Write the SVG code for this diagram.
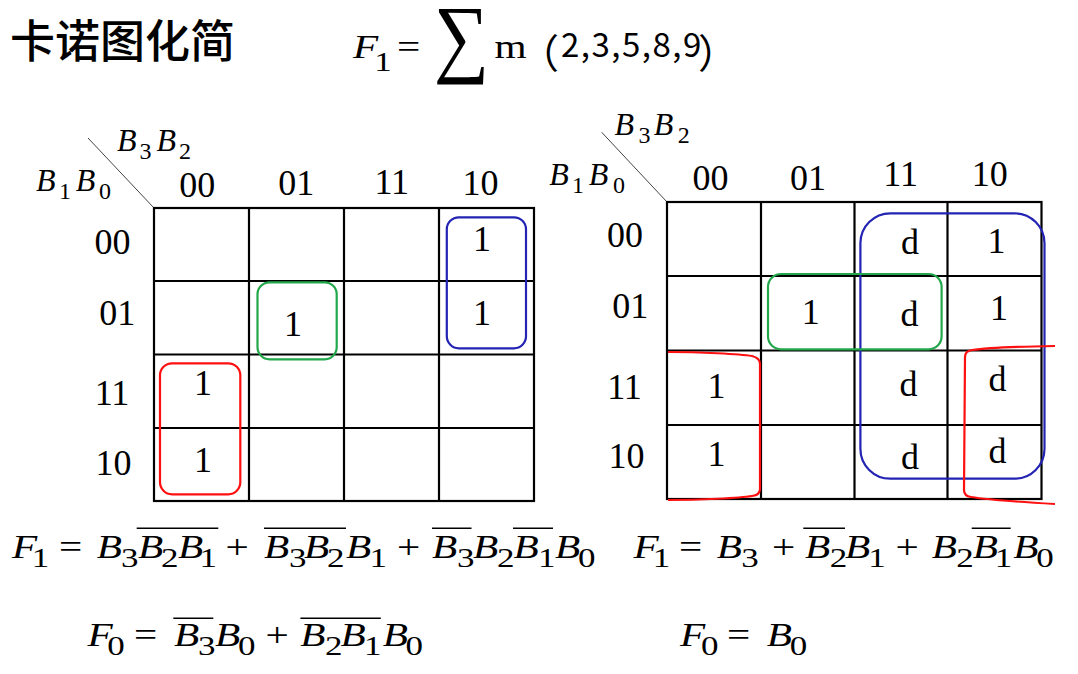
<svg xmlns="http://www.w3.org/2000/svg" width="1078" height="674" viewBox="0 0 1078 674">
<style>
.bg{fill:#fff}
.grid{fill:none;stroke:#000;stroke-width:2.2}
.diag{stroke:#444;stroke-width:1;fill:none}
.hd{font-family:"Liberation Serif",serif;font-size:36px;fill:#000;text-anchor:middle}
.cell{font-family:"Liberation Serif",serif;font-size:36px;fill:#000;text-anchor:middle}
.ax{font-family:"Liberation Serif",serif;font-size:32px;font-style:italic;fill:#000}
.ax .s{font-style:normal;font-size:24px}
.eq{font-family:"Liberation Serif",serif;font-size:33px;font-style:italic;fill:#000}
.eq .s{font-style:normal;font-size:28px}
.eq .o{font-style:normal}
.sum{font-family:"Liberation Serif",serif;font-size:72px;fill:#000}
.bar{stroke:#000;stroke-width:1.6}
.blue{fill:none;stroke:#2323b4;stroke-width:2.2}
.green{fill:none;stroke:#22a84b;stroke-width:2.2}
.red{fill:none;stroke:#ff1010;stroke-width:2.2}
.title{font-family:"Noto Sans CJK SC","Noto Sans",sans-serif;font-size:45px;font-weight:500;fill:#000}
.cj{font-family:"Noto Sans CJK SC","Noto Sans",sans-serif;font-size:33px;fill:#000}
.cj .p{font-size:40px}
</style>
<rect class="bg" x="0" y="0" width="1078" height="674"/>

<g id="title">
<text class="title" x="10" y="58">卡诺图化简</text>
</g>

<g id="formula-top">
<text class="eq" transform="scale(1.25,1)"><tspan x="282.4" y="58">F</tspan><tspan class="s" x="299.5" y="71">1</tspan><tspan class="o" x="317.6" y="58">=</tspan><tspan class="o" x="395.6" y="58">m</tspan></text>
<text class="sum" transform="translate(433.7,66) scale(1.08,1.21)" x="0" y="0">∑</text>
<text class="cj"><tspan class="p" x="519" y="68">（</tspan><tspan x="561" y="57" letter-spacing="1.5">2,3,5,8,9</tspan><tspan class="p" x="698" y="68">）</tspan></text>
</g>

<g id="kmap-left">
<line class="diag" x1="88" y1="138" x2="154" y2="208"/>
<text class="ax"><tspan x="117" y="151">B</tspan><tspan class="s" x="139.5" y="158.5">3</tspan><tspan x="156.5" y="151">B</tspan><tspan class="s" x="179" y="158.5">2</tspan></text>
<text class="ax"><tspan x="36" y="191">B</tspan><tspan class="s" x="59" y="199">1</tspan><tspan x="75.8" y="191">B</tspan><tspan class="s" x="99" y="199">0</tspan></text>
<text class="hd" x="197.3" y="196.7">00</text>
<text class="hd" x="296.3" y="195">01</text>
<text class="hd" x="391.8" y="194">11</text>
<text class="hd" x="480.4" y="195">10</text>
<text class="hd" x="112.4" y="254">00</text>
<text class="hd" x="117.3" y="325">01</text>
<text class="hd" x="112" y="405">11</text>
<text class="hd" x="113.6" y="475">10</text>
<rect class="grid" x="154" y="208" width="380" height="293"/>
<path class="grid" d="M249,208V501M344,208V501M439,208V501M154,281H534M154,354.5H534M154,428H534"/>
<text class="cell" x="482" y="250.7">1</text>
<text class="cell" x="482" y="325">1</text>
<text class="cell" x="293" y="336">1</text>
<text class="cell" x="203" y="395">1</text>
<text class="cell" x="203" y="471.7">1</text>
<rect class="blue" x="446.8" y="217.3" width="79.2" height="131" rx="12"/>
<rect class="green" x="257.5" y="282.3" width="79.2" height="77" rx="12"/>
<rect class="red" x="160" y="363.3" width="80.3" height="131" rx="12"/>
</g>

<g id="kmap-right">
<line class="diag" x1="601.7" y1="132.3" x2="667" y2="202"/>
<text class="ax"><tspan x="614.4" y="135">B</tspan><tspan class="s" x="638.5" y="143">3</tspan><tspan x="653.8" y="135">B</tspan><tspan class="s" x="677.8" y="143">2</tspan></text>
<text class="ax"><tspan x="549.3" y="185">B</tspan><tspan class="s" x="572" y="193">1</tspan><tspan x="588.7" y="185">B</tspan><tspan class="s" x="613" y="193">0</tspan></text>
<text class="hd" x="710.5" y="190">00</text>
<text class="hd" x="808" y="190">01</text>
<text class="hd" x="900.7" y="186">11</text>
<text class="hd" x="989.8" y="186">10</text>
<text class="hd" x="625" y="247.3">00</text>
<text class="hd" x="630.3" y="318.3">01</text>
<text class="hd" x="624.5" y="399.3">11</text>
<text class="hd" x="626.5" y="468.3">10</text>
<rect class="grid" x="667" y="202" width="374.5" height="297"/>
<path class="grid" d="M761,202V499M854.5,202V499M947.5,202V499M667,276H1041.5M667,350.5H1041.5M667,425H1041.5"/>
<text class="cell" x="910" y="254">d</text>
<text class="cell" x="996.5" y="253.3">1</text>
<text class="cell" x="810.7" y="324">1</text>
<text class="cell" x="909.4" y="326">d</text>
<text class="cell" x="999" y="320">1</text>
<text class="cell" x="716.5" y="398.3">1</text>
<text class="cell" x="908.4" y="396">d</text>
<text class="cell" x="997.5" y="390.7">d</text>
<text class="cell" x="716.5" y="466">1</text>
<text class="cell" x="910" y="469.3">d</text>
<text class="cell" x="997.5" y="462.7">d</text>
<rect class="blue" x="860.4" y="213.3" width="184.1" height="265.4" rx="30"/>
<rect class="green" x="768" y="274" width="173.6" height="75.3" rx="13"/>
<path class="red" d="M668,352 C700,352 740,354 752,356 Q760,358 760,364 L760,489 Q760,495 752,496 C740,498 700,500 668,500"/>
<path class="red" d="M1055,346 C1020,346.5 985,348 972,350 Q965,351 965,357 L964,490 Q964,496 971,497 C990,500 1020,502 1055,504"/>
</g>

<g id="formulas-left">
<text class="eq" transform="scale(1.25,1)"><tspan x="9.6" y="558">F</tspan><tspan class="s" x="25.4" y="567">1</tspan><tspan class="o" x="47.2" y="558">=</tspan><tspan x="77.36" y="558">B</tspan><tspan class="s" x="96.8" y="567">3</tspan><tspan x="110.4" y="558">B</tspan><tspan class="s" x="128.8" y="567">2</tspan><tspan x="142.4" y="558">B</tspan><tspan class="s" x="159.6" y="567">1</tspan><tspan class="o" x="180.4" y="558">+</tspan><tspan x="211.2" y="558">B</tspan><tspan class="s" x="231.2" y="567">3</tspan><tspan x="243.2" y="558">B</tspan><tspan class="s" x="261.6" y="567">2</tspan><tspan x="276.8" y="558">B</tspan><tspan class="s" x="295.6" y="567">1</tspan><tspan class="o" x="317.6" y="558">+</tspan><tspan x="345.6" y="558">B</tspan><tspan class="s" x="365.6" y="567">3</tspan><tspan x="378.4" y="558">B</tspan><tspan class="s" x="397.6" y="567">2</tspan><tspan x="410.8" y="558">B</tspan><tspan class="s" x="430.4" y="567">1</tspan><tspan x="444" y="558">B</tspan><tspan class="s" x="462.4" y="567">0</tspan></text>
<path class="bar" d="M136.7,528.3H218.3M264,528.3H346M432,528.3H471.5M513,528.3H553"/>
<text class="eq" transform="scale(1.25,1)"><tspan x="70" y="646">F</tspan><tspan class="s" x="85.8" y="655">0</tspan><tspan class="o" x="107.2" y="646">=</tspan><tspan x="139.2" y="646">B</tspan><tspan class="s" x="158.4" y="655">3</tspan><tspan x="172" y="646">B</tspan><tspan class="s" x="190.4" y="655">0</tspan><tspan class="o" x="212.4" y="646">+</tspan><tspan x="240.3" y="646">B</tspan><tspan class="s" x="260" y="655">2</tspan><tspan x="272.5" y="646">B</tspan><tspan class="s" x="291.2" y="655">1</tspan><tspan x="306.2" y="646">B</tspan><tspan class="s" x="324.5" y="655">0</tspan></text>
<path class="bar" d="M173.3,618.3H213.3M300.4,618.3H380.8"/>
</g>

<g id="formulas-right">
<text class="eq" transform="scale(1.25,1)"><tspan x="506.8" y="558">F</tspan><tspan class="s" x="522.2" y="567">1</tspan><tspan class="o" x="543.2" y="558">=</tspan><tspan x="573.4" y="558">B</tspan><tspan class="s" x="593" y="567">3</tspan><tspan class="o" x="617.6" y="558">+</tspan><tspan x="644" y="558">B</tspan><tspan class="s" x="663.8" y="567">2</tspan><tspan x="676" y="558">B</tspan><tspan class="s" x="694.6" y="567">1</tspan><tspan class="o" x="716.4" y="558">+</tspan><tspan x="745.4" y="558">B</tspan><tspan class="s" x="765" y="567">2</tspan><tspan x="778.2" y="558">B</tspan><tspan class="s" x="795.8" y="567">1</tspan><tspan x="810.6" y="558">B</tspan><tspan class="s" x="829" y="567">0</tspan></text>
<path class="bar" d="M803.3,528.3H845M971.7,528.3H1010.7"/>
<text class="eq" transform="scale(1.25,1)"><tspan x="544" y="646">F</tspan><tspan class="s" x="560.8" y="655">0</tspan><tspan class="o" x="581.6" y="646">=</tspan><tspan x="613.4" y="646">B</tspan><tspan class="s" x="631.8" y="655">0</tspan></text>
</g>
</svg>
